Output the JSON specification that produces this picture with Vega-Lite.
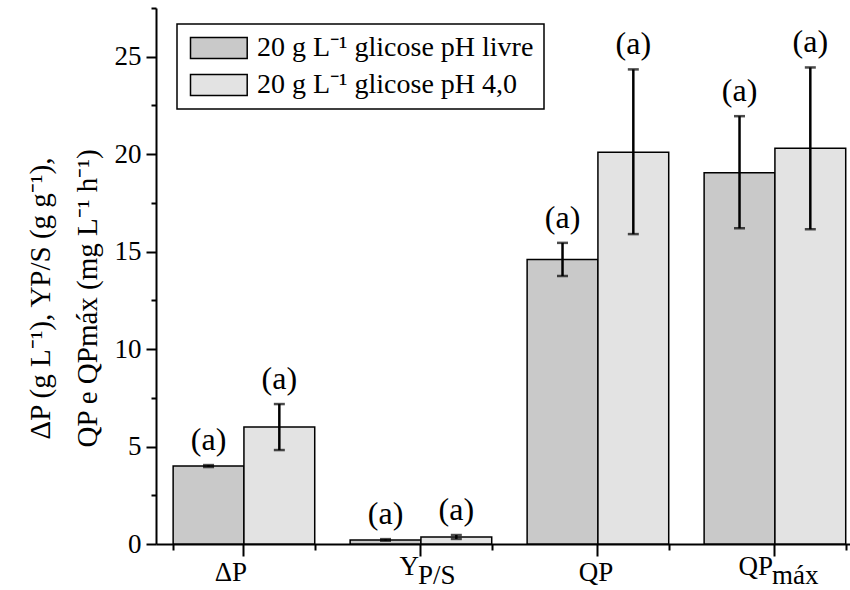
{
  "$schema": "https://vega.github.io/schema/vega-lite/v6.json",
  "width": 694,
  "height": 536,
  "autosize": {"type": "none"},
  "padding": {"left": 156, "top": 8, "right": 0, "bottom": 46},
  "background": "white",
  "config": {
    "view": {"stroke": null},
    "font": "Liberation Serif",
    "axis": {
      "labelFont": "Liberation Serif",
      "titleFont": "Liberation Serif",
      "labelColor": "black",
      "titleColor": "black",
      "tickColor": "black",
      "domainColor": "black",
      "grid": false
    },
    "legend": {"strokeColor": "black", "strokeWidth": 1.5, "fillColor": "white"},
    "text": {"font": "Liberation Serif", "color": "black"}
  },
  "datasets": {
    "medidas": [
      {"cat": "ΔP", "grupo": "20 g L⁻¹ glicose pH livre", "valor": 4.0, "min": 3.95, "max": 4.05, "letra": "(a)"},
      {"cat": "ΔP", "grupo": "20 g L⁻¹ glicose pH 4,0", "valor": 6.0, "min": 4.82, "max": 7.18, "letra": "(a)"},
      {"cat": "YP/S", "grupo": "20 g L⁻¹ glicose pH livre", "valor": 0.21, "min": 0.17, "max": 0.25, "letra": "(a)"},
      {"cat": "YP/S", "grupo": "20 g L⁻¹ glicose pH 4,0", "valor": 0.36, "min": 0.26, "max": 0.46, "letra": "(a)"},
      {"cat": "QP", "grupo": "20 g L⁻¹ glicose pH livre", "valor": 14.6, "min": 13.75, "max": 15.45, "letra": "(a)"},
      {"cat": "QP", "grupo": "20 g L⁻¹ glicose pH 4,0", "valor": 20.1, "min": 15.9, "max": 24.35, "letra": "(a)"},
      {"cat": "QPmáx", "grupo": "20 g L⁻¹ glicose pH livre", "valor": 19.05, "min": 16.2, "max": 21.95, "letra": "(a)"},
      {"cat": "QPmáx", "grupo": "20 g L⁻¹ glicose pH 4,0", "valor": 20.3, "min": 16.15, "max": 24.45, "letra": "(a)"}
    ],
    "subscritos": [
      {"cat": "YP/S", "sub": "P/S"},
      {"cat": "QPmáx", "sub": "máx"}
    ]
  },
  "layer": [
    {
      "data": {"name": "medidas"},
      "mark": {"type": "bar", "stroke": "black", "strokeWidth": 1.5},
      "encoding": {
        "x": {
          "field": "cat", "type": "nominal",
          "scale": {"domain": ["ΔP", "YP/S", "QP", "QPmáx"], "paddingInner": 0.2, "paddingOuter": 0.0605, "align": 0.8},
          "axis": {
            "orient": "bottom",
            "title": null,
            "labelAngle": 0,
            "labelExpr": "datum.value == 'YP/S' ? 'Y' : (datum.value == 'QPmáx' ? 'QP' : datum.value)",
            "labelAlign": {"condition": {"test": "datum.value == 'YP/S' || datum.value == 'QPmáx'", "value": "right"}, "value": "center"},
            "labelBaseline": {"condition": {"test": "datum.value == 'YP/S' || datum.value == 'QPmáx'", "value": "bottom"}, "value": "alphabetic"},
            "labelOffset": {"condition": {"test": "datum.value == 'ΔP'", "value": -13}, "value": -2},
            "labelPadding": 24,
            "labelFontSize": 27,
            "tickSize": 12,
            "tickWidth": 2,
            "domainWidth": 2
          }
        },
        "xOffset": {"field": "grupo", "type": "nominal", "scale": {"domain": ["20 g L⁻¹ glicose pH livre", "20 g L⁻¹ glicose pH 4,0"], "paddingInner": 0, "paddingOuter": 0}},
        "y": {
          "field": "valor", "type": "quantitative",
          "scale": {"domain": [0, 27.5], "nice": false, "zero": true},
          "axis": {
            "orient": "left",
            "values": [0, 5, 10, 15, 20, 25],
            "title": ["ΔP (g L⁻¹), YP/S (g g⁻¹),", "QP e QPmáx (mg L⁻¹ h⁻¹)"],
            "titleFontSize": 29,
            "titleFontWeight": "normal",
            "titleLineHeight": 47,
            "titlePadding": 12,
            "titleY": 290,
            "labelFontSize": 27,
            "labelPadding": 5,
            "tickSize": 10,
            "tickWidth": 2,
            "domainWidth": 2
          }
        },
        "fill": {
          "field": "grupo", "type": "nominal",
          "scale": {"domain": ["20 g L⁻¹ glicose pH livre", "20 g L⁻¹ glicose pH 4,0"], "range": ["#c9c9c9", "#e3e3e3"]},
          "legend": {
            "title": null,
            "orient": "none",
            "legendX": 21,
            "legendY": 16,
            "direction": "vertical",
            "symbolType": "M-1,-1H4.4V1H-1Z",
            "symbolSize": 441,
            "symbolStrokeColor": "black",
            "symbolStrokeWidth": 1.5,
            "labelFont": "Liberation Serif",
            "labelFontSize": 28,
            "labelColor": "black",
            "labelOffset": 42,
            "labelLimit": 500,
            "padding": 10,
            "rowPadding": 9,
            "cornerRadius": 0
          }
        }
      }
    },
    {
      "data": {"name": "medidas"},
      "mark": {"type": "rule", "color": "black", "strokeWidth": 2.5},
      "encoding": {
        "x": {
          "field": "cat", "type": "nominal",
          "scale": {"domain": ["ΔP", "YP/S", "QP", "QPmáx"], "paddingInner": 0.2, "paddingOuter": 0.0605, "align": 0.8},
          "axis": {"orient": "bottom", "tickBand": "extent", "labels": false, "domain": false, "title": null, "tickSize": 6, "tickWidth": 2}
        },
        "xOffset": {"field": "grupo", "type": "nominal", "scale": {"domain": ["20 g L⁻¹ glicose pH livre", "20 g L⁻¹ glicose pH 4,0"], "paddingInner": 0, "paddingOuter": 0}},
        "y": {
          "field": "min", "type": "quantitative",
          "scale": {"domain": [0, 27.5], "nice": false, "zero": true},
          "axis": {"orient": "left", "values": [2.5, 7.5, 12.5, 17.5, 22.5, 27.5], "labels": false, "domain": false, "title": null, "tickSize": 5, "tickWidth": 2}
        },
        "y2": {"field": "max"}
      }
    },
    {
      "data": {"name": "medidas"},
      "mark": {"type": "tick", "color": "black", "size": 11, "thickness": 2.5},
      "encoding": {
        "x": {"field": "cat", "type": "nominal", "axis": null},
        "xOffset": {"field": "grupo", "type": "nominal"},
        "y": {"field": "min", "type": "quantitative", "axis": null}
      }
    },
    {
      "data": {"name": "medidas"},
      "mark": {"type": "tick", "color": "black", "size": 11, "thickness": 2.5},
      "encoding": {
        "x": {"field": "cat", "type": "nominal", "axis": null},
        "xOffset": {"field": "grupo", "type": "nominal"},
        "y": {"field": "max", "type": "quantitative", "axis": null}
      }
    },
    {
      "data": {"name": "medidas"},
      "mark": {"type": "text", "fontSize": 32, "baseline": "middle", "dy": -25},
      "encoding": {
        "x": {"field": "cat", "type": "nominal", "axis": null},
        "xOffset": {"field": "grupo", "type": "nominal"},
        "y": {"field": "max", "type": "quantitative", "axis": null},
        "text": {"field": "letra"}
      }
    },
    {
      "data": {"name": "subscritos"},
      "mark": {"type": "text", "fontSize": 27, "align": "left", "baseline": "alphabetic", "dy": 40, "dx": -3},
      "encoding": {
        "x": {"field": "cat", "type": "nominal", "axis": null},
        "y": {"datum": 0, "type": "quantitative", "axis": null},
        "text": {"field": "sub"}
      }
    }
  ],
  "resolve": {"scale": {"x": "shared", "y": "shared", "xOffset": "shared"}, "axis": {"x": "independent", "y": "independent"}}
}
